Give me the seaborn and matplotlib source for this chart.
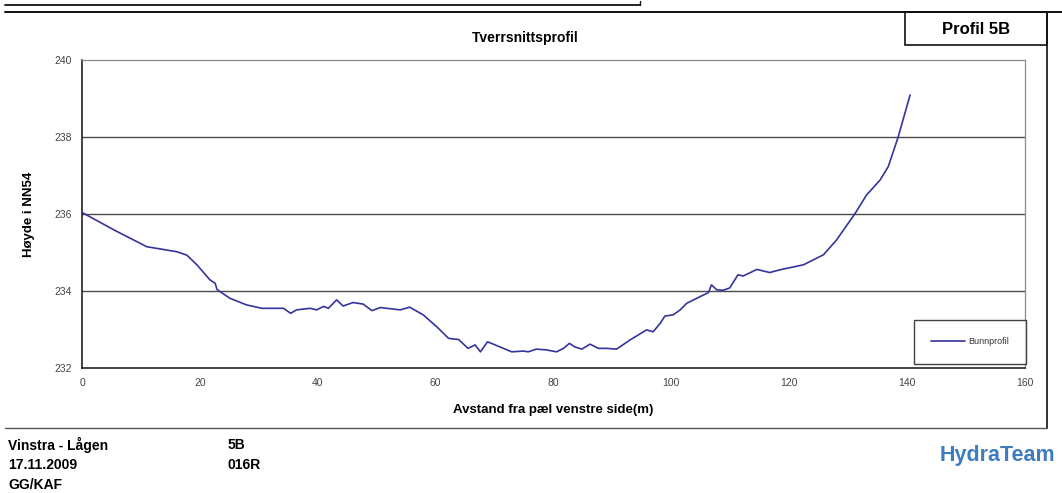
import numpy as np
import pandas as pd
import matplotlib
matplotlib.use("Agg")
import matplotlib.pyplot as plt
from matplotlib.lines import Line2D
from matplotlib.patches import Rectangle
import seaborn as sns

# cross-section profile
avstand = [0.0, 5.5, 11.0, 16.1, 17.8, 19.5, 21.7, 22.6, 22.9, 25.1, 27.9, 30.5,
           34.2, 35.4, 36.4, 38.7, 39.8, 41.0, 41.8, 43.2, 44.3, 46.0, 47.7, 49.2,
           50.6, 54.0, 55.6, 57.9, 60.2, 62.2, 63.9, 65.5, 66.7, 67.6, 68.8, 70.1,
           72.9, 74.9, 75.7, 77.1, 78.8, 80.5, 81.7, 82.7, 83.6, 84.8, 86.2, 87.6,
           89.0, 90.7, 93.0, 94.4, 95.8, 96.9, 98.1, 98.9, 100.3, 101.5, 102.6,
           104.3, 106.3, 106.8, 107.7, 108.8, 109.9, 111.3, 112.2, 114.5, 116.7,
           118.4, 122.4, 125.8, 128.0, 131.2, 133.1, 135.4, 136.8, 138.5, 140.5]
hoyde = [236.04, 235.58, 235.15, 235.02, 234.93, 234.68, 234.29, 234.20, 234.04,
         233.81, 233.64, 233.55, 233.55, 233.42, 233.51, 233.55, 233.51, 233.60,
         233.55, 233.77, 233.61, 233.70, 233.66, 233.49, 233.57, 233.51, 233.58,
         233.38, 233.07, 232.77, 232.74, 232.51, 232.60, 232.42, 232.68, 232.60,
         232.42, 232.44, 232.42, 232.49, 232.47, 232.42, 232.51, 232.64, 232.55,
         232.49, 232.62, 232.51, 232.51, 232.49, 232.73, 232.86, 232.99, 232.94,
         233.16, 233.35, 233.38, 233.51, 233.68, 233.81, 233.96, 234.16, 234.03,
         234.02, 234.08, 234.42, 234.39, 234.56, 234.48, 234.55, 234.68, 234.94,
         235.32, 236.02, 236.49, 236.88, 237.23, 238.01, 239.09]

x_ticks = [0, 20, 40, 60, 80, 100, 120, 140, 160]
y_ticks = [232, 234, 236, 238, 240]
grid_levels = [234, 236, 238]

info_left = ["Vinstra - Lågen", "17.11.2009", "GG/KAF"]
info_mid = ["5B", "016R"]

df = pd.DataFrame({"avstand": avstand, "hoyde": hoyde})

sns.set_style("white")
plt.rcParams["font.family"] = ["Liberation Sans", "DejaVu Sans"]
plt.rcParams["text.color"] = "black"
plt.rcParams["axes.labelcolor"] = "black"

W, H = 1062, 493
fig = plt.figure(figsize=(W / 100, H / 100), dpi=100)


def fx(px):
    return px / W


def fy(py):
    return 1 - py / H


ax = fig.add_axes([fx(82), fy(368), fx(1025) - fx(82), fy(60) - fy(368)])

for lv in grid_levels:
    ax.axhline(lv, color="#4a4a4a", lw=1.0, zorder=1)

sns.lineplot(data=df, x="avstand", y="hoyde", ax=ax, color="#34349c", lw=1.2,
             label="Bunnprofil", sort=False, estimator=None, zorder=3)

ax.set_xlim(0, 160)
ax.set_ylim(232, 240)
ax.set_xticks(x_ticks)
ax.set_yticks(y_ticks)
ax.tick_params(axis="both", direction="out", length=4, width=0.8,
               labelsize=7.5, labelcolor="#444444", color="#222222")
ax.tick_params(axis="x", pad=3)
ax.tick_params(axis="y", pad=3)
for side in ["left", "bottom"]:
    ax.spines[side].set_color("#111111")
    ax.spines[side].set_linewidth(1.1)
for side in ["top", "right"]:
    ax.spines[side].set_color("#8a8a8a")
    ax.spines[side].set_linewidth(0.9)

ax.set_xlabel("Avstand fra pæl venstre side(m)", fontsize=9.5, fontweight="bold",
              labelpad=12)
ax.set_ylabel("Høyde i NN54", fontsize=9.5, fontweight="bold", labelpad=14)

leg = ax.legend(loc="center", bbox_to_anchor=(fx(970), fy(342)),
                bbox_transform=fig.transFigure, fontsize=6.5, frameon=True,
                fancybox=False, borderpad=1.9, handlelength=3.8,
                handletextpad=0.4)
leg.get_frame().set_edgecolor("#111111")
leg.get_frame().set_linewidth(1.0)
leg.get_texts()[0].set_color("#333333")

fig.text(fx(525), fy(38), "Tverrsnittsprofil", ha="center", va="center",
         fontsize=10, fontweight="bold")

# frame lines around the sheet
fig.add_artist(Line2D([fx(5), fx(640)], [fy(5), fy(5)], color="#111111", lw=1.3))
fig.add_artist(Line2D([fx(640), fx(640)], [fy(5), fy(1)], color="#111111", lw=1.0))
fig.add_artist(Line2D([fx(5), fx(1062)], [fy(12), fy(12)], color="#111111", lw=1.4))
fig.add_artist(Line2D([fx(1047), fx(1047)], [fy(12), fy(428)], color="#111111", lw=1.2))
fig.add_artist(Line2D([fx(5), fx(1047)], [fy(428), fy(428)], color="#555555", lw=1.0))
fig.add_artist(Rectangle((fx(905), fy(45)), fx(1047) - fx(905), fy(12) - fy(45),
                         transform=fig.transFigure, fill=False,
                         edgecolor="#111111", lw=1.2))
fig.text(fx(976), fy(29), "Profil 5B", ha="center", va="center",
         fontsize=12, fontweight="bold")

for i, t in enumerate(info_left):
    fig.text(fx(8), fy(445 + 20 * i), t, ha="left", va="center",
             fontsize=10, fontweight="bold")
for i, t in enumerate(info_mid):
    fig.text(fx(228), fy(445 + 20 * i), t, ha="left", va="center",
             fontsize=10, fontweight="bold")

fig.text(fx(940), fy(455), "HydraTeam", ha="left", va="center", fontsize=15.5,
         fontweight="bold", color="#3d7cc0")

fig.savefig("out.png", dpi=100)
